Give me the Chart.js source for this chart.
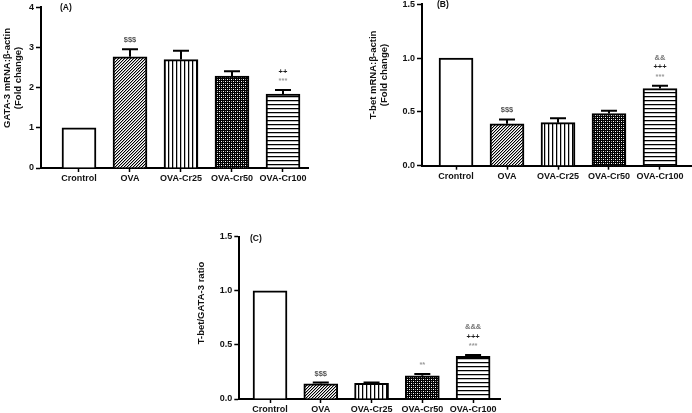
<!DOCTYPE html>
<html><head><meta charset="utf-8">
<script src="https://cdn.jsdelivr.net/npm/chart.js@4.4.1/dist/chart.umd.min.js"></script>
<style>
html,body{margin:0;padding:0;background:#fff;width:692px;height:413px;overflow:hidden;position:relative}
canvas{position:absolute;display:block}
</style></head><body>
<canvas id="cA" width="312" height="190" style="left:0px;top:0px"></canvas>
<canvas id="cB" width="332" height="194" style="left:360px;top:-4px"></canvas>
<canvas id="cC" width="315" height="187" style="left:190px;top:226px"></canvas>
<script>
// ---- data ----
const categories = ['Crontrol', 'OVA', 'OVA-Cr25', 'OVA-Cr50', 'OVA-Cr100'];

const gataValues = [1.0, 2.77, 2.70, 2.29, 1.84];
const gataErrors = [0, 0.19, 0.22, 0.12, 0.10];
const gataMarks  = [[], ['$$$'], [], [], ['***', '++']];
const gataTicks  = [0, 1, 2, 3, 4];
const gataTitle  = ['GATA-3 mRNA:\u03B2-actin', '(Fold change)'];

const tbetValues = [1.0, 0.39, 0.40, 0.485, 0.717];
const tbetErrors = [0, 0.04, 0.04, 0.025, 0.025];
const tbetMarks  = [[], ['$$$'], [], [], ['***', '+++', '&&']];
const tbetTicks  = [0, 0.5, 1.0, 1.5];
const tbetTitle  = ['T-bet mRNA:\u03B2-actin', '(Fold change)'];

const ratioValues = [1.0, 0.14, 0.145, 0.215, 0.395];
const ratioErrors = [0, 0.012, 0.008, 0.015, 0.012];
const ratioMarks  = [[], ['$$$'], [], ['**'], ['***', '+++', '&&&']];
const ratioTicks  = [0, 0.5, 1.0, 1.5];
const ratioTitle  = ['T-bet/GATA-3 ratio'];

const panelLabels = ['(A)', '(B)', '(C)'];

// ---- styling ----
const FONT = "'Liberation Sans', Arial, sans-serif";
const markColors = {'$': '#555', '+': '#222', '*': '#9a9a9a', '&': '#777'};

function tile(size, painter) {
  const c = document.createElement('canvas');
  c.width = size; c.height = size;
  const ctx = c.getContext('2d');
  const img = ctx.createImageData(size, size);
  for (let y = 0; y < size; y++) for (let x = 0; x < size; x++) {
    const v = painter(x, y);
    const k = (y * size + x) * 4;
    img.data[k] = img.data[k + 1] = img.data[k + 2] = v; img.data[k + 3] = 255;
  }
  ctx.putImageData(img, 0, 0);
  return ctx.createPattern(c, 'repeat');
}
const fills = [
  '#ffffff',
  tile(3, (x, y) => { const m = (x + y) % 3; return m === 2 ? 0 : (m === 0 ? 170 : 255); }),
  tile(4, (x, y) => x === 0 ? 0 : (x === 1 ? 190 : 255)),
  tile(4, (x, y) => ((x === 1 && y === 1) || (x === 3 && y === 3)) ? 255 :
                    (((x === 3 && y === 1) || (x === 1 && y === 3)) ? 150 : 0)),
  tile(4, (x, y) => y === 0 ? 0 : (y === 1 ? 190 : 255))
];

const decorPlugin = {
  id: 'decor',
  afterDatasetsDraw(chart, args, opts) {
    const ctx = chart.ctx;
    const meta = chart.getDatasetMeta(0);
    const ys = chart.scales.y;
    const ds = chart.data.datasets[0];
    ctx.save();
    ctx.strokeStyle = '#000';
    ctx.lineWidth = 2;
    ds.data.forEach((pt, i) => {
      const e = opts.errors[i];
      const x = meta.data[i].x;
      const yTop = ys.getPixelForValue(pt.y + e);
      if (e > 0) {
        const yBar = ys.getPixelForValue(pt.y);
        ctx.beginPath();
        ctx.moveTo(x, yBar); ctx.lineTo(x, yTop);
        ctx.moveTo(x - 8, yTop); ctx.lineTo(x + 8, yTop);
        ctx.stroke();
      }
      const marks = opts.marks[i];
      ctx.font = "bold 7.5px " + FONT;
      ctx.textAlign = 'center';
      ctx.textBaseline = 'middle';
      marks.forEach((m, j) => {
        ctx.fillStyle = markColors[m[0]];
        ctx.fillText(m, x, yTop - 9 - j * 9.5);
      });
    });
    // panel label
    ctx.fillStyle = '#111';
    ctx.font = "bold 8.5px " + FONT;
    ctx.textAlign = 'left';
    ctx.textBaseline = 'middle';
    ctx.fillText(opts.label, opts.labelX, opts.labelY);
    // y-axis title lines
    ctx.font = "bold 9.5px " + FONT;
    ctx.textAlign = 'center';
    opts.title.forEach((t, j) => {
      ctx.save();
      ctx.translate(opts.titleX[j], opts.titleY);
      ctx.rotate(-Math.PI / 2);
      ctx.fillText(t, 0, 0);
      ctx.restore();
    });
    ctx.restore();
  }
};

function makeChart(id, values, errors, marks, ticks, title, label, L) {
  const decimals = ticks.some(t => !Number.isInteger(t)) ? 1 : 0;
  return new Chart(document.getElementById(id), {
    type: 'bar',
    data: {
      datasets: [{
        data: values.map((v, i) => ({x: i, y: v})),
        backgroundColor: fills,
        borderColor: '#000',
        borderWidth: 2,
        barThickness: 34
      }]
    },
    plugins: [decorPlugin],
    options: {
      responsive: false,
      devicePixelRatio: 1,
      animation: false,
      layout: {padding: {top: L.padTop, right: L.padRight, left: 0, bottom: 0}},
      plugins: {
        legend: {display: false},
        tooltip: {enabled: false},
        decor: {errors, marks, label, labelX: L.labelX, labelY: L.labelY,
                title, titleX: L.titleX, titleY: L.titleY}
      },
      scales: {
        x: {
          type: 'linear',
          offset: false,
          min: L.xMin, max: L.xMax,
          afterBuildTicks: s => { s.ticks = categories.map((c, i) => ({value: i})); },
          afterFit: s => { s.height = L.xHeight; },
          ticks: {
            autoSkip: false, maxRotation: 0, padding: 1,
            color: '#111', font: {family: FONT, size: 9, weight: 'bold'},
            callback: v => categories[v]
          },
          grid: {offset: false, drawOnChartArea: false, drawTicks: true, tickLength: 4, tickWidth: 1.5, tickColor: '#000'},
          border: {display: true, width: 2, color: '#000'}
        },
        y: {
          min: ticks[0], max: ticks[ticks.length - 1],
          afterBuildTicks: s => { s.ticks = ticks.map(v => ({value: v})); },
          afterFit: s => { s.width = L.yWidth; },
          ticks: {
            padding: 2,
            color: '#111', font: {family: FONT, size: 9, weight: 'bold'},
            callback: v => Number(v).toFixed(decimals)
          },
          grid: {drawOnChartArea: false, drawTicks: true, tickLength: 5, tickWidth: 1.5, tickColor: '#000'},
          border: {display: true, width: 2, color: '#000'}
        }
      }
    }
  });
}

makeChart('cA', gataValues, gataErrors, gataMarks, gataTicks, gataTitle, panelLabels[0],
  {padTop: 7, padRight: 3.5, yWidth: 41, xHeight: 22, xMin: -0.745, xMax: 4.5,
   labelX: 60, labelY: 8, titleX: [7.5, 18.5], titleY: 78});
makeChart('cB', tbetValues, tbetErrors, tbetMarks, tbetTicks, tbetTitle, panelLabels[1],
  {padTop: 8.3, padRight: 1, yWidth: 62, xHeight: 24.3, xMin: -0.667, xMax: 4.608,
   labelX: 77, labelY: 9, titleX: [13.5, 24], titleY: 79});
makeChart('cC', ratioValues, ratioErrors, ratioMarks, ratioTicks, ratioTitle, panelLabels[2],
  {padTop: 10.7, padRight: 5, yWidth: 49.3, xHeight: 14, xMin: -0.605, xMax: 4.53,
   labelX: 60, labelY: 13, titleX: [11.5], titleY: 77});
</script>
</body></html>
